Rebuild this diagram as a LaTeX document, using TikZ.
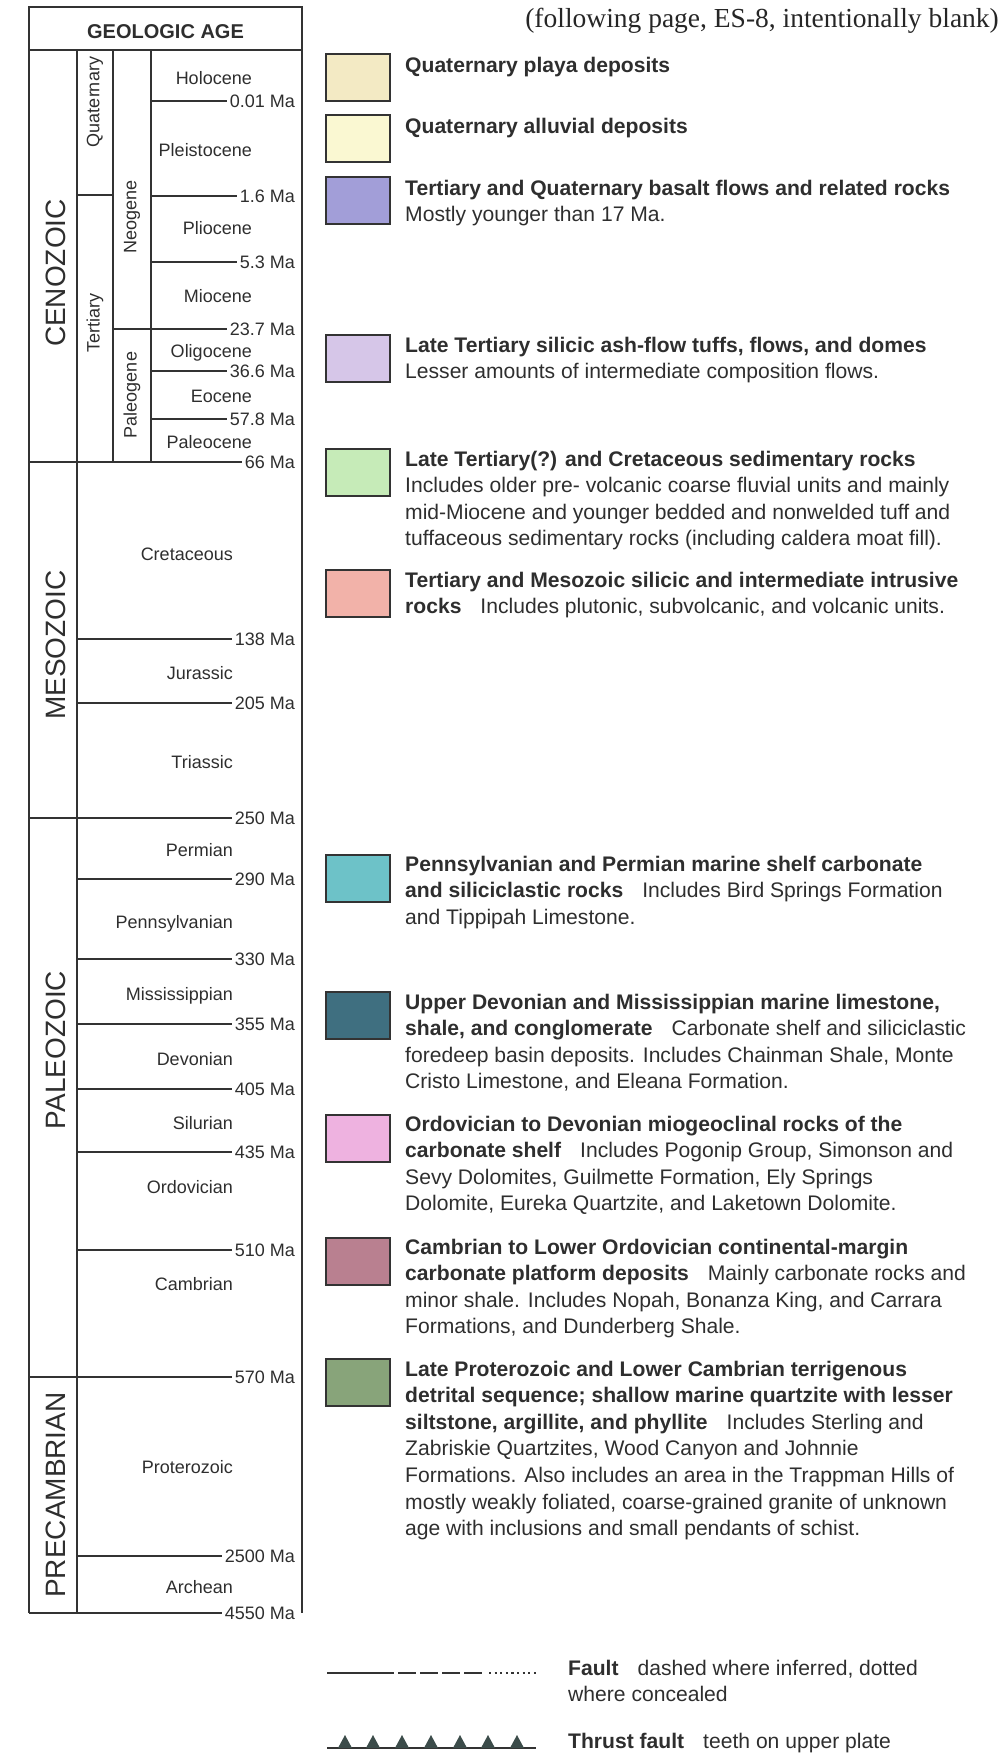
\documentclass[tikz,border=0pt]{standalone}
\usepackage{fontspec}
\setmainfont{Liberation Sans}
\newfontfamily\titleserif{Liberation Serif}
\definecolor{ink}{HTML}{333333}
\definecolor{txt}{HTML}{2E2E2E}
\definecolor{cPlaya}{HTML}{F3EAC4}
\definecolor{cAlluv}{HTML}{FAF8D2}
\definecolor{cBasalt}{HTML}{A29ED8}
\definecolor{cTuff}{HTML}{D6C6E8}
\definecolor{cSed}{HTML}{C6EBB8}
\definecolor{cIntr}{HTML}{F2B2A9}
\definecolor{cPenn}{HTML}{6DC2C8}
\definecolor{cDev}{HTML}{3F6F80}
\definecolor{cOrd}{HTML}{EEB2E0}
\definecolor{cCamb}{HTML}{B98090}
\definecolor{cProt}{HTML}{88A47A}
\definecolor{tooth}{HTML}{3C4C4A}
\newcommand{\legtext}[1]{\parbox[t]{590pt}{\raggedright\fontsize{21.1}{26.6}\selectfont #1}}
\newcommand{\gapsp}{\hspace{0.9em}}
\begin{document}
\begin{tikzpicture}[x=1pt,y=-1pt,
  chartline/.style={draw=ink,line width=1.4pt},
  ma/.style={anchor=base east,inner xsep=3pt,inner ysep=0pt,font=\fontsize{18}{20}\selectfont,text=txt},
  ep/.style={anchor=base east,inner sep=0pt,font=\fontsize{18}{20}\selectfont,text=txt},
  sub/.style={rotate=90,inner sep=0pt,font=\fontsize{18}{20}\selectfont,text=txt},
  era/.style={rotate=90,inner sep=0pt,font=\fontsize{28}{30}\selectfont,text=txt},
  legbox/.style={draw=ink,line width=2pt,minimum width=64pt,minimum height=47pt,inner sep=0pt},
  legtxt/.style={anchor=base west,inner sep=0pt,text=txt},
]
\useasboundingbox (0,0) rectangle (1003,1759);

% ---------- title ----------
\node[anchor=base east,inner sep=0pt,font=\titleserif\fontsize{27.5}{29}\selectfont,text=black!85] (title) at (999,27) {(following page, ES-8, intentionally blank)};

% ---------- chart frame ----------
\coordinate (tl) at (29,7);
\coordinate (tr) at (302,7);
\coordinate (br) at (302,1613);
\coordinate (bl) at (29,1613);
\draw[chartline] (bl) -- (tl) -- (tr) -- (br);
\coordinate (hl) at (29,50);
\coordinate (hr) at (302,50);
\draw[chartline] (hl) -- (hr);
\node[font=\bfseries\fontsize{20}{22}\selectfont,text=txt,inner sep=0pt] (hdr) at (165.5,31.5) {GEOLOGIC AGE};

% column separators
\coordinate (v1t) at (77,50);   \coordinate (v1b) at (77,1613);
\coordinate (v2t) at (113,50);  \coordinate (v2b) at (113,462);
\coordinate (v3t) at (151,50);  \coordinate (v3b) at (151,462);
\draw[chartline] (v1t) -- (v1b);
\draw[chartline] (v2t) -- (v2b);
\draw[chartline] (v3t) -- (v3b);
% Quaternary / Tertiary divider
\coordinate (qt1) at (77,195); \coordinate (qt2) at (113,195);
\draw[chartline] (qt1) -- (qt2);

% age boundary lines with labels
\foreach \y/\lab/\x/\nm in {
  101/0.01 Ma/151/mA, 196/1.6 Ma/151/mB, 262/5.3 Ma/151/mC, 329/23.7 Ma/113/mD,
  371/36.6 Ma/151/mE, 419/57.8 Ma/151/mF, 462/66 Ma/29/mG,
  639/138 Ma/77/mH, 703/205 Ma/77/mI, 818/250 Ma/29/mJ, 879/290 Ma/77/mK,
  959/330 Ma/77/mL, 1024/355 Ma/77/mM, 1089/405 Ma/77/mN, 1152/435 Ma/77/mO,
  1250/510 Ma/77/mP, 1377/570 Ma/29/mQ, 1556/2500 Ma/77/mR, 1613/4550 Ma/29/mS}{
  \node[ma] (\nm) at (298,\y+6.5) {\lab};
  \coordinate (c\nm) at (\x,\y);
  \draw[chartline] (c\nm) -- (\nm.west |- c\nm);
}

% epochs / periods
\foreach \y/\lab/\x/\nm in {
  78/Holocene/252/eA, 150/Pleistocene/252/eB, 228/Pliocene/252/eC, 296/Miocene/252/eD,
  351/Oligocene/252/eE, 396/Eocene/252/eF, 442/Paleocene/252/eG,
  554/Cretaceous/233/eH, 673/Jurassic/233/eI, 762/Triassic/233/eJ, 850/Permian/233/eK,
  922/Pennsylvanian/233/eL, 994/Mississippian/233/eM, 1059/Devonian/233/eN,
  1123/Silurian/233/eO, 1187/Ordovician/233/eP, 1284/Cambrian/233/eQ,
  1467/Proterozoic/233/eR, 1587/Archean/233/eS}{
  \node[ep] (\nm) at (\x,\y+6.5) {\lab};
}

% sub-period labels
\node[sub] (quat) at (95,102) {Quaternary};
\node[sub] (tert) at (95,323) {Tertiary};
\node[sub] (neog) at (132,217) {Neogene};
\node[sub] (paleog) at (132,395) {Paleogene};

% eras
\node[era] (ceno) at (56,273) {CENOZOIC};
\node[era] (meso) at (56,645) {MESOZOIC};
\node[era] (paleo) at (56,1050) {PALEOZOIC};
\node[era] (precamb) at (56,1495) {PRECAMBRIAN};

% ---------- legend ----------
\node[legbox,fill=cPlaya] (b1) at (358,77.5) {};
\node[legtxt] (t1) at (405,72) {\legtext{\textbf{Quaternary playa deposits}}};

\node[legbox,fill=cAlluv] (b2) at (358,138.5) {};
\node[legtxt] (t2) at (405,133) {\legtext{\textbf{Quaternary alluvial deposits}}};

\node[legbox,fill=cBasalt] (b3) at (358,200) {};
\node[legtxt] (t3) at (405,195) {\legtext{\textbf{Tertiary and Quaternary basalt flows and related rocks}\\Mostly younger than 17 Ma.}};

\node[legbox,fill=cTuff] (b4) at (358,358.5) {};
\node[legtxt] (t4) at (405,352) {\legtext{\textbf{Late Tertiary silicic ash-flow tuffs, flows, and domes}\\Lesser amounts of intermediate composition flows.}};

\node[legbox,fill=cSed] (b5) at (358,472.5) {};
\node[legtxt] (t5) at (405,466) {\legtext{\textbf{Late Tertiary(?) and Cretaceous sedimentary rocks}\\Includes older pre- volcanic coarse fluvial units and mainly\\mid-Miocene and younger bedded and nonwelded tuff and\\tuffaceous sedimentary rocks (including caldera moat fill).}};

\node[legbox,fill=cIntr] (b6) at (358,593.5) {};
\node[legtxt] (t6) at (405,587) {\legtext{\textbf{Tertiary and Mesozoic silicic and intermediate intrusive}\\\textbf{rocks}\gapsp Includes plutonic, subvolcanic, and volcanic units.}};

\node[legbox,fill=cPenn] (b7) at (358,878.5) {};
\node[legtxt] (t7) at (405,871) {\legtext{\textbf{Pennsylvanian and Permian marine shelf carbonate}\\\textbf{and siliciclastic rocks}\gapsp Includes Bird Springs Formation\\and Tippipah Limestone.}};

\node[legbox,fill=cDev] (b8) at (358,1015) {};
\node[legtxt] (t8) at (405,1009) {\legtext{\textbf{Upper Devonian and Mississippian marine limestone,}\\\textbf{shale, and conglomerate}\gapsp Carbonate shelf and siliciclastic\\foredeep basin deposits. Includes Chainman Shale, Monte\\Cristo Limestone, and Eleana Formation.}};

\node[legbox,fill=cOrd] (b9) at (358,1138) {};
\node[legtxt] (t9) at (405,1131) {\legtext{\textbf{Ordovician to Devonian miogeoclinal rocks of the}\\\textbf{carbonate shelf}\gapsp Includes Pogonip Group, Simonson and\\Sevy Dolomites, Guilmette Formation, Ely Springs\\Dolomite, Eureka Quartzite, and Laketown Dolomite.}};

\node[legbox,fill=cCamb] (b10) at (358,1261.5) {};
\node[legtxt] (t10) at (405,1254) {\legtext{\textbf{Cambrian to Lower Ordovician continental-margin}\\\textbf{carbonate platform deposits}\gapsp Mainly carbonate rocks and\\minor shale. Includes Nopah, Bonanza King, and Carrara\\Formations, and Dunderberg Shale.}};

\node[legbox,fill=cProt] (b11) at (358,1382.5) {};
\node[legtxt] (t11) at (405,1376) {\legtext{\textbf{Late Proterozoic and Lower Cambrian terrigenous}\\\textbf{detrital sequence; shallow marine quartzite with lesser}\\\textbf{siltstone, argillite, and phyllite}\gapsp Includes Sterling and\\Zabriskie Quartzites, Wood Canyon and Johnnie\\Formations. Also includes an area in the Trappman Hills of\\mostly weakly foliated, coarse-grained granite of unknown\\age with inclusions and small pendants of schist.}};

% ---------- fault symbols ----------
\coordinate (f0) at (327,1673);
\coordinate (f1) at (394,1673);
\coordinate (f2) at (398,1673);
\coordinate (f3) at (484,1673);
\coordinate (f4) at (489,1673);
\coordinate (f5) at (536,1673);
\draw[draw=ink,line width=2.4pt] (f0) -- (f1);
\draw[draw=ink,line width=2.4pt,dash pattern=on 18pt off 4pt] (f2) -- (f3);
\draw[draw=ink,line width=2.4pt,dash pattern=on 2.2pt off 3.4pt] (f4) -- (f5);
\node[legtxt] (tf) at (568,1675) {\legtext{\textbf{Fault}\gapsp dashed where inferred, dotted\\where concealed}};

\coordinate (th0) at (327,1748);
\coordinate (th1) at (536,1748);
\draw[draw=ink,line width=2.4pt] (th0) -- (th1);
\foreach \tx in {345,373,402,431,460,488,517}{
  \fill[tooth] (\tx-7,1748) -- (\tx,1735) -- (\tx+7,1748) -- cycle;
}
\node[legtxt] (tt) at (568,1748) {\legtext{\textbf{Thrust fault}\gapsp teeth on upper plate}};
\end{tikzpicture}
\end{document}
